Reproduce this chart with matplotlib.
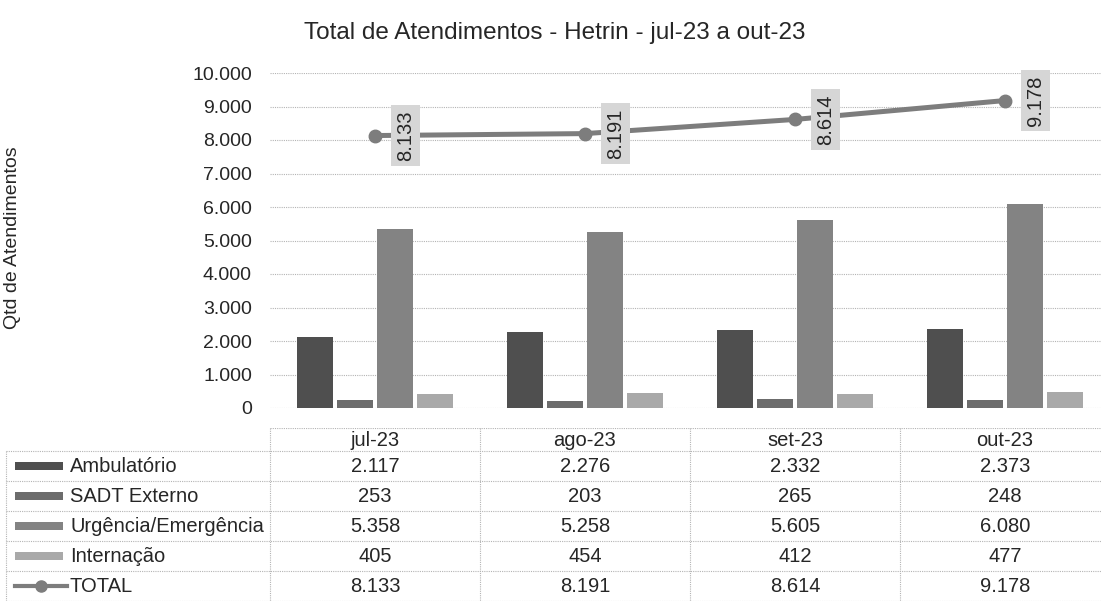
import matplotlib
matplotlib.use("Agg")
import matplotlib.pyplot as plt
from matplotlib.ticker import FixedLocator, FuncFormatter
from matplotlib.patches import Rectangle

plt.rcParams['font.family'] = ['Liberation Sans', 'DejaVu Sans']

# ---- data ----
months = ["jul-23", "ago-23", "set-23", "out-23"]
series_names = ["Ambulatório", "SADT Externo", "Urgência/Emergência", "Internação"]
ambulatorio = [2117, 2276, 2332, 2373]
sadt_externo = [253, 203, 265, 248]
urgencia = [5358, 5258, 5605, 6080]
internacao = [405, 454, 412, 477]
total = [8133, 8191, 8614, 9178]
total_name = "TOTAL"
title = "Total de Atendimentos - Hetrin - jul-23 a out-23"
ylabel = "Qtd de Atendimentos"
yticks = list(range(0, 10001, 1000))

series = [ambulatorio, sadt_externo, urgencia, internacao]
colors = ["#4f4f4f", "#6c6c6c", "#838383", "#a9a9a9"]
line_color = "#7d7d7d"
grid_color = "#b4b4b4"
text_color = "#262626"

def fmt(v):
    return f"{int(v):,}".replace(",", ".")

W, H = 1101, 606
fig = plt.figure(figsize=(W / 100, H / 100), dpi=100)
fig.patch.set_facecolor("white")

# main axes: category unit = 210 px, left edge at 270 px
unit = 210.0
ax_left_px = 270
ax = fig.add_axes([ax_left_px / W, (H - 408) / H, 4 * unit / W, 335 / H])
ax.set_xlim(-0.5, 3.5)
ax.set_ylim(0, 10000)
for s in ax.spines.values():
    s.set_visible(False)
ax.yaxis.set_major_locator(FixedLocator(yticks))
ax.yaxis.set_major_formatter(FuncFormatter(lambda v, p: fmt(v)))
ax.tick_params(axis="y", length=0, pad=13, labelsize=14, labelcolor=text_color)
ax.set_xticks([])
ax.grid(axis="y", color=grid_color, linestyle=(0, (1, 1)), linewidth=0.8)
ax.set_axisbelow(True)

step = 40 / unit
bw = 36 / unit
xs = list(range(len(months)))
for i, (vals, c) in enumerate(zip(series, colors)):
    off = (i - 1.5) * step
    ax.bar([x + off for x in xs], vals, width=bw, color=c, zorder=2)

ax.plot(xs, total, color=line_color, linewidth=3.6, marker="o",
        markersize=9, zorder=3)
for x, v in zip(xs, total):
    ax.annotate(fmt(v), (x, v), xytext=(22, 0), textcoords="offset points",
                rotation=90, ha="center", va="center", fontsize=14.5,
                color=text_color, zorder=4,
                bbox=dict(boxstyle="square,pad=0.25", fc="#d6d6d6", ec="none"))

# title & y-label
fig.text(555 / W, 1 - 33 / H, title, ha="center", va="center",
         fontsize=17.5, color=text_color)
fig.text(13 / W, 1 - 238 / H, ylabel, rotation=90, ha="center",
         va="center", fontsize=14, color=text_color)

# ---- data table ----
tab_left_px = 5
x0 = -0.5 - (ax_left_px - tab_left_px) / unit
row_edges = [0, 23, 53, 83, 113, 143, 173]
tax = fig.add_axes([tab_left_px / W, 5 / H,
                    (ax_left_px + 4 * unit - tab_left_px) / W, 173 / H])
tax.set_xlim(x0, 3.5)
tax.set_ylim(173, 0)
tax.axis("off")

lkw = dict(color=grid_color, linestyle=(0, (1, 1)), linewidth=0.8)
tax.plot([-0.5, 3.5], [row_edges[0]] * 2, **lkw)
for e in row_edges[1:]:
    tax.plot([x0 + 0.005, 3.5], [e, e], **lkw)
tax.plot([x0 + 0.005] * 2, [row_edges[1], row_edges[-1]], **lkw)
for b in [-0.5, 0.5, 1.5, 2.5]:
    tax.plot([b, b], [row_edges[0], row_edges[-1]], **lkw)

def row_mid(r):
    return (row_edges[r] + row_edges[r + 1]) / 2

fs = 14.5
for j, m in enumerate(months):
    tax.text(j, row_mid(0) + 1, m, ha="center", va="center", fontsize=fs,
             color=text_color)

sw_x0 = x0 + 10 / unit
sw_x1 = x0 + 58 / unit
lab_x = x0 + 65 / unit
for i, (name, vals, c) in enumerate(zip(series_names, series, colors)):
    r = i + 1
    ym = row_mid(r)
    tax.add_patch(Rectangle((sw_x0, ym - 4), sw_x1 - sw_x0, 8, color=c, lw=0))
    tax.text(lab_x, ym, name, ha="left", va="center", fontsize=fs,
             color=text_color)
    for j, v in enumerate(vals):
        tax.text(j, ym, fmt(v), ha="center", va="center", fontsize=fs,
                 color=text_color)

r = len(series) + 1
ym = row_mid(r)
tax.plot([sw_x0, sw_x1 + 4 / unit], [ym, ym], color=line_color, linewidth=3.0)
tax.plot([(sw_x0 + sw_x1 + 4 / unit) / 2], [ym], marker="o", color=line_color,
         markersize=8)
tax.text(lab_x, ym, total_name, ha="left", va="center", fontsize=fs,
         color=text_color)
for j, v in enumerate(total):
    tax.text(j, ym, fmt(v), ha="center", va="center", fontsize=fs,
             color=text_color)

fig.savefig("out.png", dpi=100, facecolor="white")
